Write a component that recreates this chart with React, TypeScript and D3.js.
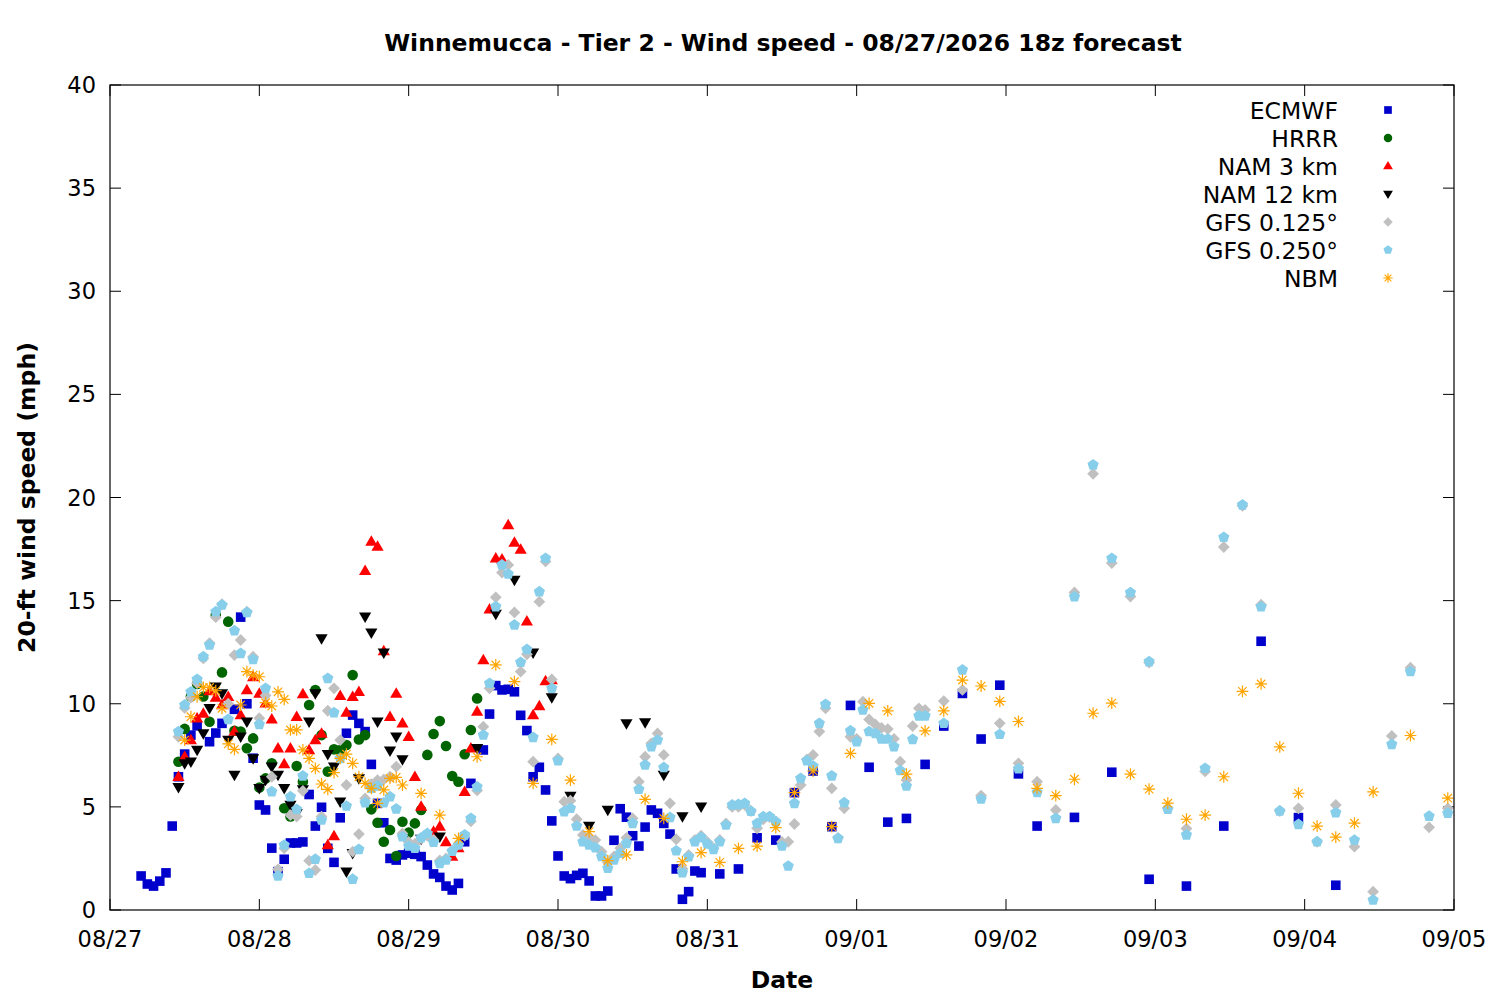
import * as d3 from 'd3';

// [hours after 08/27 00:00, wind speed mph]
type Pt = [number, number];

const title = 'Winnemucca - Tier 2 - Wind speed - 08/27/2026 18z forecast';
const startDay = Date.UTC(2026, 7, 27);
const endDay = Date.UTC(2026, 8, 5);
const yTicks = [0, 5, 10, 15, 20, 25, 30, 35, 40];

const ecmwf: Pt[] = [
	[5, 1.65], [6, 1.26], [7, 1.16], [8, 1.4], [9, 1.8], [10, 4.07], [11, 6.46], [12, 7.56], [13, 8.48], [14, 8.93],
	[16, 8.16], [17, 8.58], [18, 9.05], [20, 9.73], [21, 14.2], [22, 10.0], [23, 7.36], [24, 5.09], [25, 4.85], [26, 3.0],
	[27, 1.86], [28, 2.46], [29, 3.25], [30, 3.25], [31, 3.3], [32, 5.6], [33, 4.07], [34, 4.98], [35, 2.99], [36, 2.31],
	[37, 4.47], [38, 8.57], [39, 9.45], [40, 9.05], [41, 8.65], [42, 7.06], [43, 5.17], [44, 4.23], [45, 2.5], [46, 2.42],
	[47, 2.67], [48, 2.75], [49, 2.7], [50, 2.59], [51, 2.18], [52, 1.75], [53, 1.58], [54, 1.16], [55, 0.97], [56, 1.29],
	[57, 3.31], [58, 6.14], [60, 7.76], [61, 9.5], [62, 10.88], [63, 10.67], [64, 10.7], [65, 10.58], [66, 9.44], [67, 8.7],
	[68, 6.46], [69, 6.92], [70, 5.82], [71, 4.32], [72, 2.62], [73, 1.65], [74, 1.52], [75, 1.68], [76, 1.78], [77, 1.41],
	[78, 0.68], [79, 0.68], [80, 0.92], [81, 3.38], [82, 4.91], [83, 4.5], [84, 3.6], [85, 3.1], [86, 4.02], [87, 4.85],
	[88, 4.69], [89, 4.2], [90, 3.68], [91, 1.99], [92, 0.52], [93, 0.89], [94, 1.89], [95, 1.81], [98, 1.75], [101, 1.99],
	[104, 3.5], [107, 3.39], [110, 5.69], [113, 6.74], [116, 4.04], [119, 9.92], [122, 6.92], [125, 4.26], [128, 4.44],
	[131, 7.06], [134, 8.92], [137, 10.5], [140, 8.29], [143, 10.9], [146, 6.6], [149, 4.07], [155, 4.49], [161, 6.68],
	[167, 1.49], [173, 1.16], [179, 4.07], [185, 13.03], [191, 4.48], [197, 1.2],
];

const hrrr: Pt[] = [
	[11, 7.19], [12, 8.78], [13, 10.35], [14, 10.96], [15, 10.35], [16, 9.13], [17, 14.3], [18, 11.52], [19, 13.98],
	[20, 8.69], [21, 8.65], [22, 7.84], [23, 8.32], [24, 5.94], [25, 6.38], [26, 7.11], [28, 4.93], [29, 4.53], [30, 6.98],
	[31, 6.22], [32, 9.94], [33, 10.67], [34, 8.48], [35, 6.71], [36, 7.79], [37, 7.76], [38, 8.0], [39, 11.39], [40, 8.27],
	[41, 8.48], [42, 4.88], [43, 4.23], [44, 3.31], [45, 3.88], [46, 2.62], [47, 4.28], [48, 3.75], [49, 4.2], [50, 4.85],
	[51, 7.52], [52, 8.53], [53, 9.16], [54, 7.95], [55, 6.5], [56, 6.22], [57, 7.55], [58, 8.73], [59, 10.26],
];

const nam3: Pt[] = [
	[11, 6.46], [12, 7.43], [13, 8.24], [14, 9.29], [15, 9.53], [16, 10.62], [17, 10.3], [18, 9.94], [19, 10.34], [20, 8.65],
	[21, 9.45], [22, 10.67], [23, 11.3], [24, 10.5], [25, 10.02], [26, 9.24], [27, 7.84], [28, 7.08], [29, 7.84], [30, 9.37],
	[31, 10.47], [32, 7.76], [33, 8.24], [34, 8.56], [35, 3.15], [36, 3.59], [37, 10.38], [38, 9.57], [39, 10.34], [40, 10.58],
	[41, 16.45], [42, 17.86], [43, 17.62], [44, 12.56], [45, 9.37], [46, 10.5], [47, 9.05], [48, 8.4], [49, 6.46], [50, 5.01],
	[52, 3.8], [53, 4.04], [54, 3.3], [55, 2.59], [56, 3.0], [57, 5.73], [58, 7.84], [59, 9.62], [60, 12.12], [61, 14.58],
	[62, 17.05], [63, 17.0], [64, 18.67], [65, 17.81], [66, 17.48], [67, 14.0], [68, 9.45], [69, 9.89], [70, 11.1], [71, 11.15],
];

const nam12: Pt[] = [
	[11, 5.95], [12, 7.11], [13, 7.19], [14, 7.76], [15, 8.56], [16, 9.78], [17, 10.83], [18, 10.5], [19, 8.24], [20, 6.55],
	[21, 8.4], [22, 9.13], [23, 7.35], [24, 5.9], [25, 6.3], [26, 6.95], [27, 6.55], [28, 5.9], [29, 5.09], [30, 4.69],
	[31, 5.85], [32, 9.13], [33, 10.5], [34, 13.17], [35, 7.55], [36, 6.95], [37, 5.25], [38, 1.86], [39, 2.75], [40, 6.38],
	[41, 14.22], [42, 13.45], [43, 9.13], [44, 12.47], [45, 7.72], [46, 8.4], [47, 7.3], [50, 3.45], [53, 3.55], [59, 7.84],
	[62, 14.35], [65, 16.0], [68, 12.47], [71, 10.3], [74, 5.53], [77, 4.07], [80, 4.85], [83, 9.05], [86, 9.09], [89, 6.55],
	[92, 4.53], [95, 5.01],
];

const gfs0125: Pt[] = [
	[11, 8.4], [12, 9.8], [13, 10.3], [14, 11.0], [15, 12.2], [16, 12.94], [17, 14.2], [18, 14.83], [19, 10.0], [20, 12.36],
	[21, 13.09], [22, 14.46], [23, 12.28], [24, 9.3], [25, 10.4], [26, 6.46], [27, 1.97], [28, 2.99], [29, 4.6], [30, 4.53],
	[31, 5.78], [32, 2.39], [33, 1.94], [34, 4.53], [35, 9.66], [36, 10.75], [37, 8.24], [38, 6.06], [39, 2.83], [40, 3.68],
	[41, 5.41], [42, 6.1], [43, 6.3], [44, 6.33], [45, 6.46], [46, 6.95], [47, 3.71], [48, 3.3], [49, 3.2], [50, 3.47],
	[51, 3.6], [52, 3.4], [53, 2.4], [54, 2.5], [55, 2.9], [56, 3.2], [57, 3.6], [58, 4.3], [59, 5.8], [60, 8.89],
	[61, 10.75], [62, 15.16], [63, 16.36], [64, 16.73], [65, 14.43], [66, 11.56], [67, 12.4], [68, 7.19], [69, 14.95], [70, 16.9],
	[71, 11.18], [72, 7.35], [73, 5.25], [74, 5.3], [75, 4.4], [76, 3.64], [77, 3.5], [78, 3.39], [79, 2.83], [80, 2.3],
	[81, 2.6], [82, 3.0], [83, 3.5], [84, 4.44], [85, 6.22], [86, 7.43], [87, 8.08], [88, 8.56], [89, 7.52], [90, 5.17],
	[91, 3.43], [92, 2.0], [93, 2.67], [94, 3.4], [95, 3.6], [96, 3.3], [97, 3.0], [98, 3.4], [99, 4.2], [100, 5.0],
	[101, 5.0], [102, 5.1], [103, 4.8], [104, 3.96], [105, 4.4], [106, 4.5], [107, 4.3], [108, 3.3], [109, 3.31], [110, 4.17],
	[111, 6.06], [112, 7.3], [113, 7.52], [114, 8.65], [115, 9.78], [116, 5.9], [117, 3.5], [118, 4.93], [119, 8.4], [120, 8.3],
	[121, 10.1], [122, 9.24], [123, 9.0], [124, 8.83], [125, 8.77], [126, 8.3], [127, 7.19], [128, 6.3], [129, 8.92], [130, 9.78],
	[131, 9.7], [134, 10.13], [137, 10.67], [140, 5.55], [143, 9.05], [146, 7.11], [149, 6.22], [152, 4.85], [155, 15.4],
	[158, 21.15], [161, 16.82], [164, 15.2], [167, 12.0], [170, 4.95], [173, 3.95], [176, 6.72], [179, 17.6], [182, 19.6],
	[185, 14.8], [188, 4.8], [191, 4.93], [194, 3.31], [197, 5.09], [200, 3.07], [203, 0.89], [206, 8.44], [209, 11.75],
	[212, 4.01], [215, 4.93],
];

const gfs0250: Pt[] = [
	[11, 8.65], [12, 9.94], [13, 10.58], [14, 11.18], [15, 12.28], [16, 12.85], [17, 14.46], [18, 14.79], [19, 9.24], [20, 13.54],
	[21, 12.44], [22, 14.43], [23, 12.15], [24, 9.0], [25, 10.75], [26, 5.74], [27, 1.65], [28, 3.15], [29, 5.49], [30, 4.88],
	[31, 6.5], [32, 1.78], [33, 2.46], [34, 4.36], [35, 11.23], [36, 9.57], [37, 7.35], [38, 5.04], [39, 1.49], [40, 2.94],
	[41, 5.2], [42, 5.9], [43, 6.01], [44, 5.2], [45, 5.49], [46, 4.9], [47, 3.55], [48, 3.1], [49, 2.99], [50, 3.5],
	[51, 3.71], [52, 3.28], [53, 2.26], [54, 2.42], [55, 2.85], [56, 3.15], [57, 3.64], [58, 4.44], [59, 5.97], [60, 8.48],
	[61, 10.99], [62, 14.71], [63, 16.73], [64, 16.29], [65, 13.82], [66, 12.01], [67, 12.63], [68, 8.37], [69, 15.43], [70, 17.05],
	[71, 10.75], [72, 7.24], [73, 4.77], [74, 4.93], [75, 4.07], [76, 3.31], [77, 3.15], [78, 3.02], [79, 2.59], [80, 2.02],
	[81, 2.42], [82, 2.75], [83, 3.23], [84, 4.2], [85, 5.85], [86, 7.03], [87, 7.92], [88, 8.24], [89, 6.91], [90, 4.49],
	[91, 2.87], [92, 1.81], [93, 2.58], [94, 3.31], [95, 3.52], [96, 3.2], [97, 2.94], [98, 3.31], [99, 4.12], [100, 5.09],
	[101, 5.12], [102, 5.17], [103, 4.79], [104, 4.2], [105, 4.53], [106, 4.53], [107, 4.28], [108, 3.1], [109, 2.13], [110, 5.17],
	[111, 6.38], [112, 7.24], [113, 6.98], [114, 9.05], [115, 9.97], [116, 6.5], [117, 3.47], [118, 5.2], [119, 8.69], [120, 8.16],
	[121, 9.7], [122, 8.65], [123, 8.56], [124, 8.29], [125, 8.29], [126, 7.92], [127, 6.76], [128, 6.01], [129, 8.27], [130, 9.41],
	[131, 9.41], [134, 9.05], [137, 11.64], [140, 5.38], [143, 8.52], [146, 6.85], [149, 5.7], [152, 4.44], [155, 15.19],
	[158, 21.58], [161, 17.05], [164, 15.39], [167, 12.04], [170, 4.88], [173, 3.64], [176, 6.87], [179, 18.07], [182, 19.64],
	[185, 14.7], [188, 4.8], [191, 4.15], [194, 3.31], [197, 4.72], [200, 3.39], [203, 0.48], [206, 8.03], [209, 11.56],
	[212, 4.55], [215, 4.69],
];

const nbm: Pt[] = [
	[12, 8.24], [13, 9.37], [14, 10.34], [15, 10.79], [16, 10.79], [17, 10.63], [18, 9.78], [19, 8.05], [20, 7.79], [21, 9.94],
	[22, 11.56], [23, 11.39], [24, 11.31], [25, 10.05], [26, 9.89], [27, 10.58], [28, 10.21], [29, 8.73], [30, 8.73], [31, 7.76],
	[32, 7.35], [33, 6.87], [34, 6.11], [35, 5.85], [36, 6.66], [37, 7.35], [38, 7.56], [39, 7.11], [40, 6.46], [41, 6.14],
	[42, 5.9], [43, 5.17], [44, 5.82], [45, 6.38], [46, 6.43], [47, 6.06], [50, 5.65], [53, 4.6], [56, 3.47], [59, 7.43],
	[62, 11.88], [65, 11.07], [68, 6.14], [71, 8.27], [74, 6.3], [77, 3.8], [80, 2.39], [83, 2.67], [86, 5.36], [89, 4.44],
	[92, 2.34], [95, 2.78], [98, 2.31], [101, 2.99], [104, 3.1], [107, 3.99], [110, 5.69], [113, 6.74], [116, 4.04], [119, 7.59],
	[122, 10.02], [125, 9.65], [128, 6.59], [131, 8.68], [134, 9.65], [137, 11.15], [140, 10.86], [143, 10.12], [146, 9.14],
	[149, 5.9], [152, 5.55], [155, 6.34], [158, 9.54], [161, 10.03], [164, 6.59], [167, 5.86], [170, 5.18], [173, 4.4],
	[176, 4.6], [179, 6.46], [182, 10.6], [185, 10.96], [188, 7.91], [191, 5.66], [194, 4.07], [197, 3.53], [200, 4.21],
	[203, 5.73], [209, 8.46], [215, 5.42],
];

const seriesNames = ['ECMWF', 'HRRR', 'NAM 3 km', 'NAM 12 km', 'GFS 0.125°', 'GFS 0.250°', 'NBM'];
const seriesData = [ecmwf, hrrr, nam3, nam12, gfs0125, gfs0250, nbm];
const seriesColors = ['#0000cc', '#006400', '#ff0000', '#000000', '#c0c0c0', '#87ceeb', '#ffa500'];
const seriesShapes = ['square', 'circle', 'tri', 'tridown', 'diamond', 'pentagon', 'star'];

const font = 'DejaVu Sans, sans-serif';

// gnuplot-like point glyphs, centred on 0,0
const shapePath = (shape: string) => {
	switch (shape) {
		case 'square': return 'M-4.8,-4.8h9.6v9.6h-9.6z';
		case 'circle': return d3.symbol(d3.symbolCircle, Math.PI * 5.3 * 5.3)() as string;
		case 'tri': return 'M0,-6.3L6.1,4.2L-6.1,4.2Z';
		case 'tridown': return 'M0,6.3L6.1,-4.2L-6.1,-4.2Z';
		case 'diamond': return 'M0,-5.9L5.9,0L0,5.9L-5.9,0Z';
		case 'pentagon': {
			const r = 5.9;
			const pts = d3.range(5).map(i => {
				const a = -Math.PI / 2 + i * 2 * Math.PI / 5;
				return [r * Math.cos(a), r * Math.sin(a)];
			});
			return 'M' + pts.map(p => p.join(',')).join('L') + 'Z';
		}
		default: {
			const r = 5.9, q = 4.2;
			return `M${-r},0H${r}M0,${-r}V${r}M${-q},${-q}L${q},${q}M${-q},${q}L${q},${-q}`;
		}
	}
};

export default function App() {
	const width = 1500;
	const height = 1000;
	const margin = {top: 85, right: 46, bottom: 90, left: 110};

	const x = d3.scaleUtc()
		.domain([new Date(startDay), new Date(endDay)])
		.range([margin.left, width - margin.right]);

	const y = d3.scaleLinear()
		.domain([0, 40])
		.range([height - margin.bottom, margin.top]);

	const xh = (h: number) => x(new Date(startDay + h * 3600e3));
	const xTicks = x.ticks(d3.utcDay.every(1) as d3.TimeInterval);
	const fmt = d3.utcFormat('%m/%d');
	const tick = 11;
	const x0 = margin.left, x1 = width - margin.right;
	const y0 = height - margin.bottom, y1 = margin.top;
	const numSize = 22.5;
	const textSize = 23.5;

	return (
		<svg width={width} height={height} style={{position: 'absolute', left: 0, top: 0, background: '#fff'}}
			fontFamily={font}>
			<rect x={0} y={0} width={width} height={height} fill="#fff" />

			<text x={(x0 + x1) / 2 + 1} y={51} textAnchor="middle" fontSize={textSize} fontWeight="bold">{title}</text>

			{yTicks.map(v => (
				<g key={'y' + v}>
					<line x1={x0} x2={x0 + tick} y1={y(v)} y2={y(v)} stroke="#000" />
					<line x1={x1} x2={x1 - tick} y1={y(v)} y2={y(v)} stroke="#000" />
					<text x={96} y={y(v) + 8} textAnchor="end" fontSize={numSize}>{v}</text>
				</g>
			))}
			{xTicks.map(d => (
				<g key={'x' + d.getTime()}>
					<line x1={x(d)} x2={x(d)} y1={y0} y2={y0 - tick} stroke="#000" />
					<line x1={x(d)} x2={x(d)} y1={y1} y2={y1 + tick} stroke="#000" />
					<text x={x(d)} y={947} textAnchor="middle" fontSize={numSize}>{fmt(d)}</text>
				</g>
			))}

			{seriesData.map((data, i) => {
				const d = shapePath(seriesShapes[i]);
				const isStar = seriesShapes[i] === 'star';
				return (
					<g key={seriesNames[i]}>
						{data.map(([h, v], j) => (
							<path key={j} d={d} transform={`translate(${xh(h)},${y(v)})`}
								fill={isStar ? 'none' : seriesColors[i]}
								stroke={isStar ? seriesColors[i] : 'none'} strokeWidth={1.2} />
						))}
					</g>
				);
			})}

			<rect x={x0} y={y1} width={x1 - x0} height={y0 - y1} fill="none" stroke="#000" strokeWidth={1.2} />

			{seriesNames.map((name, i) => {
				const ly = 110 + i * 28;
				const isStar = seriesShapes[i] === 'star';
				return (
					<g key={'leg' + name}>
						<text x={1338} y={ly + 8.5} textAnchor="end" fontSize={textSize}>{name}</text>
						<path d={shapePath(seriesShapes[i])} transform={`translate(1388,${ly}) scale(0.8)`}
							fill={isStar ? 'none' : seriesColors[i]}
							stroke={isStar ? seriesColors[i] : 'none'} strokeWidth={1.4} />
					</g>
				);
			})}

			<text x={(x0 + x1) / 2} y={988} textAnchor="middle" fontSize={textSize} fontWeight="bold">Date</text>
			<text transform={`translate(35,${(y0 + y1) / 2}) rotate(-90)`} textAnchor="middle" fontSize={textSize}
				fontWeight="bold">20-ft wind speed (mph)</text>
		</svg>
	);
}
